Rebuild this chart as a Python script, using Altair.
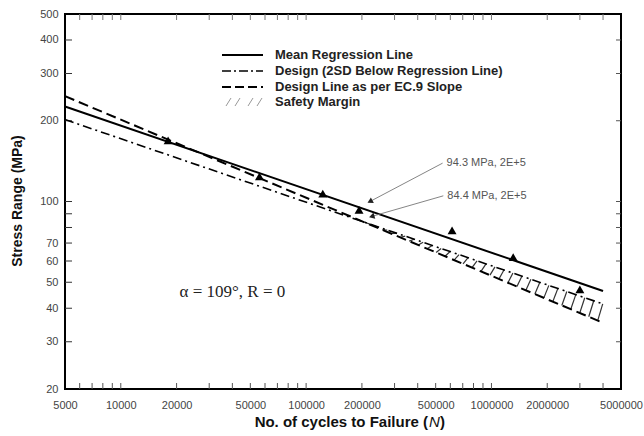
import math
import altair as alt
import pandas as pd

# Fatigue test results: cycles to failure and stress range (MPa)
cycles = [18000, 56000, 123000, 193000, 613000, 1310000, 3000000]
stress = [169, 124, 107, 93, 78, 62, 47]

# S-N lines given by their end points (straight in log-log space)
line_cycles = [5000, 4000000]
mean_stress = [226, 46.4]
design_2sd_stress = [202, 41.5]
ec9_stress = [247, 35.3]

# Reference values at 2E+5 cycles
ref_cycles = 200000
ref_mean = 94.3
ref_design = 84.4

x_labels = [5000, 10000, 20000, 50000, 100000, 200000, 500000, 1000000, 2000000, 5000000]
y_labels = [20, 30, 40, 50, 60, 70, 100, 200, 300, 400, 500]
y_tick_marks = [30, 40, 50, 60, 70, 80, 90, 100, 200, 300, 400]
x_minor = [m * 10 ** e for e in range(3, 7) for m in range(1, 10)
           if 5000 < m * 10 ** e < 5000000]

legend_labels = ["Mean Regression Line", "Design (2SD Below Regression Line)",
                 "Design Line as per EC.9 Slope", "Safety Margin"]

W, H = 556, 375
FONT = "Liberation Sans"


def on_line(n, s_pair):
    """Stress on a log-log straight line through the two end points."""
    n0, n1 = line_cycles
    s0, s1 = s_pair
    b = math.log(s1 / s0) / math.log(n1 / n0)
    return s0 * (n / n0) ** b


xs = alt.Scale(type="log", domain=[5000, 5000000], nice=False)
ys = alt.Scale(type="log", domain=[20, 500], nice=False)
x_axis = alt.Axis(values=x_labels, format="d", title=None, tickSize=0, domain=False,
                  grid=False, labelFont=FONT, labelFontSize=11, labelColor="#444",
                  labelPadding=10, labelFlush=False)
y_axis = alt.Axis(values=y_labels, format="d", title=None, tickSize=0, domain=False,
                  grid=False, labelFont=FONT, labelFontSize=11, labelColor="#444",
                  labelPadding=7)


def X(f):
    return alt.X(f, type="quantitative", scale=xs, axis=x_axis)


def Y(f):
    return alt.Y(f, type="quantitative", scale=ys, axis=y_axis)


# --- data frames -------------------------------------------------------------
pts = pd.DataFrame({"n": cycles, "s": stress})


def line_df(vals):
    return pd.DataFrame({"n": line_cycles, "s": vals})


# hatched safety margin between the 2SD design line and the EC9 line
hatch = []
n = ref_cycles * 1.03
while n * 1.064 <= line_cycles[1]:
    hatch.append({"n": n, "s": on_line(n, ec9_stress),
                  "n2": n * 1.064, "s2": on_line(n * 1.064, design_2sd_stress)})
    n *= 1.118
hatch = pd.DataFrame(hatch)

layers = []

# inward tick marks on all four sides
yt = pd.DataFrame({"s": y_tick_marks})
xt = pd.DataFrame({"n": x_minor})
layers.append(alt.Chart(yt).mark_rule(color="#333", strokeWidth=1).encode(
    y=Y("s"), x=alt.value(0), x2=alt.value(7)))
layers.append(alt.Chart(yt).mark_rule(color="#555", strokeWidth=1).encode(
    y=Y("s"), x=alt.value(W - 5), x2=alt.value(W)))
layers.append(alt.Chart(xt).mark_rule(color="#555", strokeWidth=1).encode(
    x=X("n"), y=alt.value(H - 6), y2=alt.value(H)))
layers.append(alt.Chart(xt).mark_rule(color="#777", strokeWidth=1).encode(
    x=X("n"), y=alt.value(0), y2=alt.value(6)))

# safety margin hatch
layers.append(alt.Chart(hatch).mark_rule(color="#333", strokeWidth=1.2).encode(
    x=X("n"), y=Y("s"), x2="n2", y2="s2"))

# S-N lines
layers.append(alt.Chart(line_df(ec9_stress)).mark_line(
    color="black", strokeWidth=2, strokeDash=[10, 5]).encode(x=X("n"), y=Y("s")))
layers.append(alt.Chart(line_df(design_2sd_stress)).mark_line(
    color="black", strokeWidth=1.6, strokeDash=[9, 4, 2, 4]).encode(x=X("n"), y=Y("s")))
layers.append(alt.Chart(line_df(mean_stress)).mark_line(
    color="black", strokeWidth=2).encode(x=X("n"), y=Y("s")))

# test points
layers.append(alt.Chart(pts).mark_point(
    shape="triangle-up", filled=True, color="black", size=80, opacity=1).encode(
    x=X("n"), y=Y("s")))

# annotations for the 2E+5 values
ann = pd.DataFrame({
    "label": [f"{ref_mean} MPa, 2E+5", f"{ref_design} MPa, 2E+5"],
    "tn": [545000, 550000], "ts": [139, 105],
    "hn": [221000, 226000], "hs": [100, 88],
    "ang": [242, 254],
})
layers.append(alt.Chart(ann).mark_rule(color="#777", strokeWidth=0.9).encode(
    x=X("tn"), y=Y("ts"), x2="hn", y2="hs"))
layers.append(alt.Chart(ann).mark_point(
    shape="triangle-up", filled=True, color="#222", size=40, opacity=1).encode(
    x=X("hn"), y=Y("hs"), angle=alt.Angle("ang:Q", scale=None)))
layers.append(alt.Chart(ann).mark_text(
    align="left", baseline="middle", dx=4, font=FONT, fontSize=11, color="#555").encode(
    x=X("tn"), y=Y("ts"), text="label"))

# load case note
note = pd.DataFrame({"n": [40000], "s": [46], "t": ["α = 109°, R = 0"]})
layers.append(alt.Chart(note).mark_text(
    font="Liberation Serif", fontSize=17, color="#222", align="center",
    baseline="middle").encode(x=X("n"), y=Y("s"), text="t"))

# legend
LX0, LX1, LT = 157, 198, 210
rows = [41, 57, 73, 88]
styles = [dict(strokeWidth=2), dict(strokeWidth=1.6, strokeDash=[9, 3, 2, 3]),
          dict(strokeWidth=2, strokeDash=[9, 4])]
for i, st in enumerate(styles):
    layers.append(alt.Chart(pd.DataFrame({"k": [i]})).mark_rule(color="black", **st).encode(
        x=alt.value(LX0), x2=alt.value(LX1), y=alt.value(rows[i])))
for j in range(4):
    off = LX0 + 4 + j * 9 + (4 if j > 1 else 0)
    layers.append(alt.Chart(pd.DataFrame({"k": [j]})).mark_rule(
        color="#999", strokeWidth=1).encode(
        x=alt.value(off), x2=alt.value(off + 5),
        y=alt.value(rows[3] + 4), y2=alt.value(rows[3] - 4)))
for i, lab in enumerate(legend_labels):
    layers.append(alt.Chart(pd.DataFrame({"label": [lab]})).mark_text(
        align="left", baseline="middle", font=FONT, fontSize=13, fontWeight="bold",
        color="#222").encode(x=alt.value(LT), y=alt.value(rows[i]), text="label"))

# axis titles
tt = pd.DataFrame({"t": ["Stress Range (MPa)"]})
layers.append(alt.Chart(tt).mark_text(
    angle=270, align="center", baseline="middle", font=FONT, fontSize=14,
    fontWeight="bold", color="#111").encode(x=alt.value(-47), y=alt.value(187), text="t"))
XC, XY = 363, 408
layers.append(alt.Chart(pd.DataFrame({"t": ["No. of cycles to Failure ("]})).mark_text(
    align="right", baseline="middle", font=FONT, fontSize=15, fontWeight="bold",
    color="#111").encode(x=alt.value(XC), y=alt.value(XY), text="t"))
layers.append(alt.Chart(pd.DataFrame({"t": ["N"]})).mark_text(
    align="left", baseline="middle", font=FONT, fontSize=15, fontStyle="italic",
    color="#111").encode(x=alt.value(XC + 1), y=alt.value(XY), text="t"))
layers.append(alt.Chart(pd.DataFrame({"t": [")"]})).mark_text(
    align="left", baseline="middle", font=FONT, fontSize=15, fontWeight="bold",
    color="#111").encode(x=alt.value(XC + 12), y=alt.value(XY), text="t"))

chart = alt.layer(*layers).properties(
    width=W, height=H,
    autosize=alt.AutoSizeParams(type="none"),
    padding={"left": 65, "top": 14, "right": 23, "bottom": 47},
    background="white",
).configure_view(stroke="black", strokeWidth=2)

chart.save("out.html", embed_options={"renderer": "svg", "actions": False})
